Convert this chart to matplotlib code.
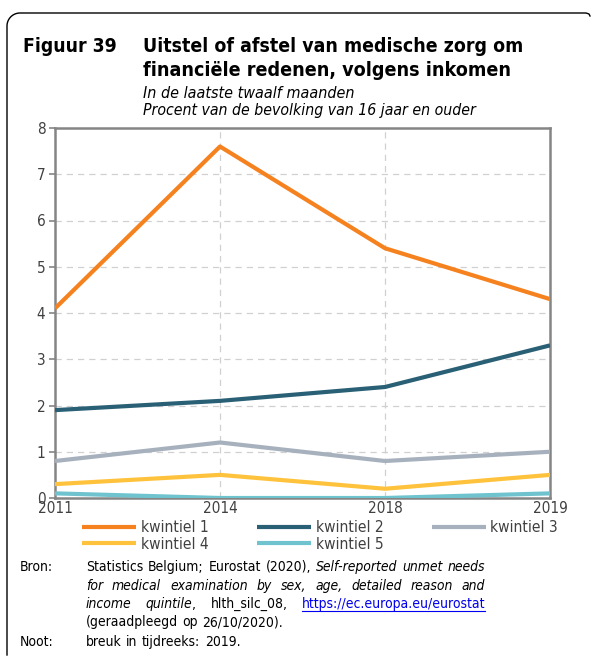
import numpy as np
import matplotlib.pyplot as plt
from matplotlib.lines import Line2D

# data
years = ["2011", "2014", "2018", "2019"]
kwintiel_1 = [4.1, 7.6, 5.4, 4.3]
kwintiel_2 = [1.9, 2.1, 2.4, 3.3]
kwintiel_3 = [0.8, 1.2, 0.8, 1.0]
kwintiel_4 = [0.3, 0.5, 0.2, 0.5]
kwintiel_5 = [0.1, 0.0, 0.0, 0.1]
labels = ["kwintiel 1", "kwintiel 2", "kwintiel 3", "kwintiel 4", "kwintiel 5"]
colors = ["#F5821F", "#2A6075", "#A7B1BE", "#FFC23C", "#6EC3CF"]

plt.rcParams['font.family'] = ['DejaVu Sans']
plt.rcParams['font.stretch'] = 'condensed'
W, H = 593, 661
fig = plt.figure(figsize=(W / 100, H / 100), dpi=100)
renderer = fig.canvas.get_renderer()


def fx(px):
    return px / W


def fy(py):
    return 1 - py / H


def width_of(t):
    return t.get_window_extent(renderer=renderer).width


def fit(t, target):
    # scale the font so the text spans the width seen in the reference
    t.set_fontsize(t.get_fontsize() * target / width_of(t))
    return t


ax = fig.add_axes([fx(55), fy(498), fx(550) - fx(55), fy(128) - fy(498)])
x = range(len(years))
series = [kwintiel_1, kwintiel_2, kwintiel_3, kwintiel_4, kwintiel_5]
handles = []
for vals, lab, col in zip(series, labels, colors):
    h, = ax.plot(x, vals, color=col, lw=3.0, label=lab, solid_capstyle='butt', zorder=3)
    handles.append(h)

ax.set_xlim(0, 3)
ax.set_ylim(0, 8)
ax.set_xticks(list(x))
ax.set_xticklabels(years)
ax.set_yticks(range(9))
for s in ax.spines.values():
    s.set_color('#858585')
    s.set_linewidth(1.8)
ax.tick_params(axis='y', colors='#858585', labelcolor='#404040', length=4, width=1.2, labelsize=11, pad=3)
ax.tick_params(axis='x', length=0, labelcolor='#404040', labelsize=11, pad=2)
for v in range(1, 8):
    ax.axhline(v, color='#D0D0D0', lw=0.9, ls=(0, (5, 4)), zorder=1)
for v in (1, 2):
    ax.axvline(v, color='#D0D0D0', lw=0.9, ls=(0, (5, 4)), zorder=1)

# legend, row-wise order
order = [0, 3, 1, 4, 2]
fig.legend([handles[i] for i in order], [labels[i] for i in order], ncol=3,
           loc='upper left', bbox_to_anchor=(fx(82), fy(520)), frameon=False,
           fontsize=11.2, handlelength=3.5, handletextpad=0.28, columnspacing=3.1,
           labelspacing=0.1, labelcolor='#404040', borderaxespad=0, borderpad=0)

# frame: left and top line with rounded top-left corner
r = 13
ang = np.linspace(np.pi, np.pi / 2, 20)
xs = [7] + list(7 + r + r * np.cos(ang)) + [586, 589, 590]
ys = [655] + list(13 + r - r * np.sin(ang)) + [13, 14, 16]
fig.add_artist(Line2D([fx(v) for v in xs], [fy(v) for v in ys], color='#000000', lw=1.0,
                      transform=fig.transFigure))

# titles
fit(fig.text(fx(23), fy(46), "Figuur 39", fontsize=15, fontweight='bold', va='center'), 94)
fit(fig.text(fx(143), fy(46), "Uitstel of afstel van medische zorg om", fontsize=15,
             fontweight='bold', va='center'), 381)
fit(fig.text(fx(143), fy(71), "financiële redenen, volgens inkomen", fontsize=15,
             fontweight='bold', va='center'), 369)
fit(fig.text(fx(143), fy(93), "In de laatste twaalf maanden", fontsize=9, style='italic',
             va='center'), 212)
fit(fig.text(fx(143), fy(110), "Procent van de bevolking van 16 jaar en ouder", fontsize=9,
             style='italic', va='center'), 332)

# footnote
N, I = 'normal', 'italic'
blk = '#000000'
bron_lines = [
    [("Statistics Belgium; Eurostat (2020),", N, blk, False),
     (" Self-reported unmet needs", I, blk, False)],
    [("for medical examination by sex, age, detailed reason and", I, blk, False)],
    [("income quintile", I, blk, False), (", hlth_silc_08,", N, blk, False),
     (" https://ec.europa.eu/eurostat", N, '#0000EE', True)],
]
FT = dict(fontstretch='condensed', va='center')


def split_words(pieces):
    # a piece starting without a space is glued to the word before it
    words = []
    for txt, st, col, ul in pieces:
        glue = not txt.startswith(' ') and len(words) > 0
        for k, w in enumerate(txt.split(' ')):
            if w:
                words.append([w, st, col, ul, glue and k == 0])
    return words


def natural_width(pieces, fs):
    words = split_words(pieces)
    total = 0
    for w, st, col, ul, g in words:
        t = fig.text(0, 0, w, fontsize=fs, style=st, **FT)
        total += width_of(t)
        t.remove()
    ngaps = sum(1 for w in words[1:] if not w[4])
    return total + ngaps * fs * 100 / 72 * 0.32


# font size: largest that lets every justified line keep at least a normal space
FS = min(10.5 * 399 / natural_width(p, 10.5) for p in bron_lines)


def put_line(pieces, y, x0, x1=None):
    words = split_words(pieces)
    arts = []
    for w, st, col, ul, g in words:
        t = fig.text(fx(x0), fy(y), w, fontsize=FS, style=st, color=col, **FT)
        arts.append((t, width_of(t), ul, g))
    total = sum(a[1] for a in arts)
    ngaps = sum(1 for a in arts[1:] if not a[3])
    if x1 is not None and ngaps > 0:
        gap = (x1 - x0 - total) / ngaps
    else:
        gap = FS * 100 / 72 * 0.32
    cx = x0
    for i, (t, wd, ul, g) in enumerate(arts):
        if i > 0 and not g:
            cx += gap
        t.set_x(fx(cx))
        if ul:
            fig.add_artist(Line2D([fx(cx), fx(cx + wd)], [fy(y + 7), fy(y + 7)], color='#0000EE',
                                  lw=0.8, transform=fig.transFigure))
        cx += wd


fig.text(fx(20), fy(567), "Bron:", fontsize=FS, **FT)
fig.text(fx(20), fy(642), "Noot:", fontsize=FS, **FT)
for pieces, yy in zip(bron_lines, [567, 586, 604]):
    put_line(pieces, yy, 86, 485)
put_line([("(geraadpleegd op 26/10/2020).", N, blk, False)], 622, 86)
put_line([("breuk in tijdreeks: 2019.", N, blk, False)], 642, 86)

fig.savefig("out.png", dpi=100)
